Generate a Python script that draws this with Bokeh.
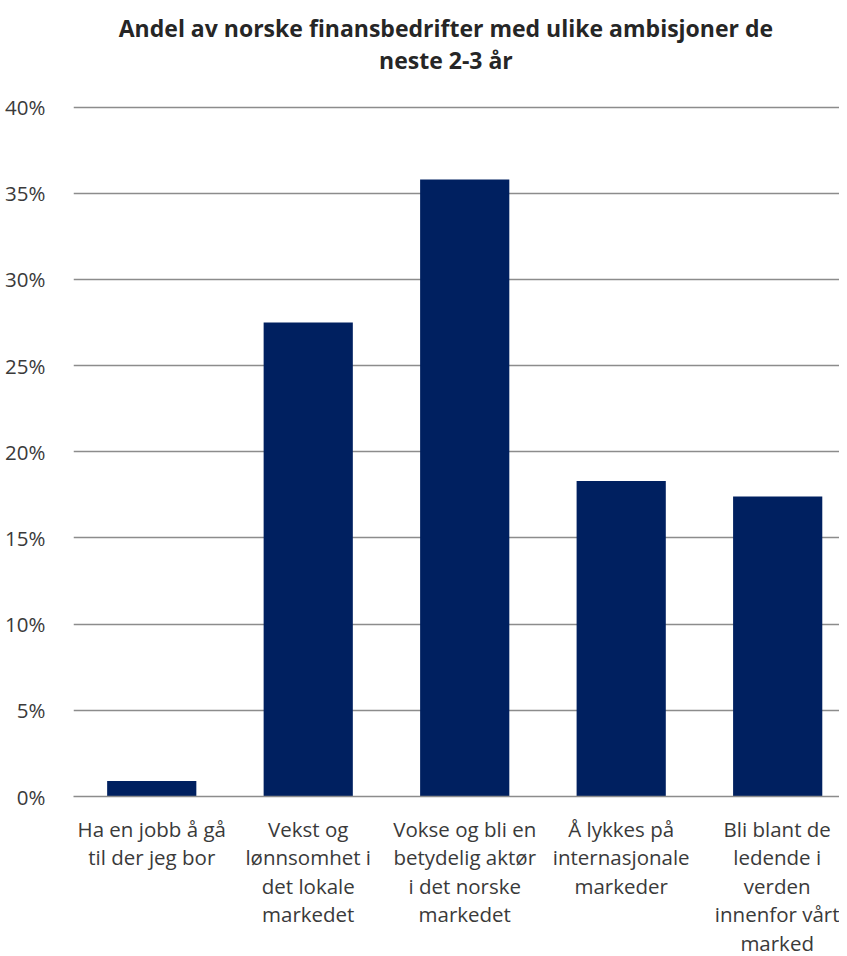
from bokeh.plotting import figure
from bokeh.models import Range1d, FixedTicker, NumeralTickFormatter, LinearAxis
from bokeh.embed import file_html
from bokeh.resources import INLINE

categories = [
    "Ha en jobb å gå\ntil der jeg bor",
    "Vekst og\nlønnsomhet i\ndet lokale\nmarkedet",
    "Vokse og bli en\nbetydelig aktør\ni det norske\nmarkedet",
    "Å lykkes på\ninternasjonale\nmarkeder",
    "Bli blant de\nledende i\nverden\ninnenfor vårt\nmarked",
]
values = [0.009, 0.275, 0.358, 0.183, 0.174]
y_ticks = [0.0, 0.05, 0.10, 0.15, 0.20, 0.25, 0.30, 0.35, 0.40]
title_text = "Andel av norske finansbedrifter med ulike ambisjoner de\nneste 2-3 år"

FONT = "Open Sans"
TEXT = "#3a3a3a"

xs = list(range(len(categories)))

p = figure(width=839, height=962, output_backend="svg", toolbar_location=None,
           x_range=Range1d(-0.5, 4.395), y_range=Range1d(0, 0.4015),
           min_border_left=73, min_border_right=0, min_border_top=104, min_border_bottom=166)
p.title = None

p.vbar(x=xs, top=values, width=0.57, bottom=0, fill_color="#002060", line_color=None)

p.outline_line_color = None
p.xgrid.grid_line_color = None
p.ygrid.ticker = FixedTicker(ticks=y_ticks)
p.ygrid.grid_line_color = "#8c8c8c"
p.ygrid.grid_line_width = 1.5

yax = p.yaxis[0]
yax.ticker = FixedTicker(ticks=y_ticks)
yax.formatter = NumeralTickFormatter(format="0%")
yax.axis_line_color = None
yax.major_tick_line_color = None
yax.minor_tick_line_color = None
yax.major_label_text_font = FONT
yax.major_label_text_font_size = "20.5px"
yax.major_label_text_color = TEXT
yax.major_label_standoff = 22

xax = p.xaxis[0]
xax.ticker = FixedTicker(ticks=xs)
xax.major_label_overrides = {i: c for i, c in enumerate(categories)}
xax.axis_line_color = "#8c8c8c"
xax.axis_line_width = 1.5
xax.major_tick_line_color = None
xax.minor_tick_line_color = None
xax.major_label_text_font = FONT
xax.major_label_text_font_size = "20.5px"
xax.major_label_text_color = TEXT
xax.major_label_standoff = 12
xax.major_label_text_line_height = 1.02
xax.major_label_text_align = "center"

# title: two centred lines above the plot area
title_pos = 1.88
title_axis = LinearAxis(ticker=FixedTicker(ticks=[title_pos]),
                        major_label_overrides={title_pos: title_text})
title_axis.axis_line_color = None
title_axis.major_tick_line_color = None
title_axis.minor_tick_line_color = None
title_axis.major_label_text_font = FONT
title_axis.major_label_text_font_size = "23px"
title_axis.major_label_text_font_style = "bold"
title_axis.major_label_text_color = "#262626"
title_axis.major_label_text_align = "center"
title_axis.major_label_text_line_height = 1.0
title_axis.major_label_standoff = 23
p.add_layout(title_axis, "above")

open("out.html", "w").write(file_html(p, INLINE))
